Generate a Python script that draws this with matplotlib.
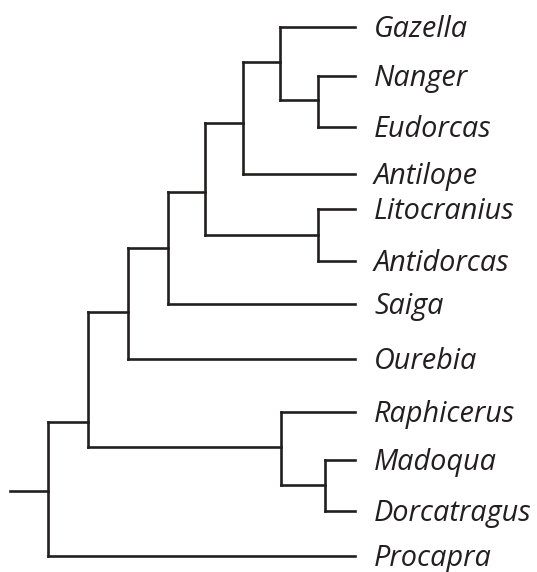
import matplotlib
matplotlib.use("Agg")
import matplotlib.pyplot as plt
from matplotlib import transforms

# Leaves (top to bottom) and their vertical positions
leaf_names = ["Gazella", "Nanger", "Eudorcas", "Antilope", "Litocranius", "Antidorcas",
              "Saiga", "Ourebia", "Raphicerus", "Madoqua", "Dorcatragus", "Procapra"]
leaf_y = [27, 76, 127, 174, 209, 261, 304, 359, 412, 460, 511, 556]
leaf_x = 355  # tip depth

# Internal nodes: name, depth, attach y, children
node_names = ["root", "F", "E", "D", "C", "B", "A", "NE", "LA", "R", "MD"]
node_depth = [48, 88, 128, 168, 205, 243, 280, 318, 318, 281, 325]
node_y = [491, 422, 312, 248, 192, 123, 62, 100, 235, 447, 485]
node_children = [["F", "Procapra"], ["E", "R"], ["D", "Ourebia"], ["C", "Saiga"],
                 ["B", "LA"], ["A", "Antilope"], ["Gazella", "NE"],
                 ["Nanger", "Eudorcas"], ["Litocranius", "Antidorcas"],
                 ["Raphicerus", "MD"], ["Madoqua", "Dorcatragus"]]
root_stub_x = 10

pos = {n: (leaf_x, y) for n, y in zip(leaf_names, leaf_y)}
for n, d, y in zip(node_names, node_depth, node_y):
    pos[n] = (d, y)

fig = plt.figure(figsize=(5.37, 5.72), dpi=100)
ax = fig.add_axes([0, 0, 1, 1])
ax.set_xlim(0, 537)
ax.set_ylim(572, 0)
ax.axis("off")

col = "#231f20"
lw = 1.9
kw = dict(color=col, lw=lw, solid_capstyle="projecting", solid_joinstyle="miter")

for n, ch in zip(node_names, node_children):
    x, _ = pos[n]
    ys = [pos[c][1] for c in ch]
    ax.plot([x, x], [min(ys), max(ys)], **kw)
    for c in ch:
        cx, cy = pos[c]
        ax.plot([x, cx], [cy, cy], **kw)

rx, ry = pos["root"]
ax.plot([root_stub_x, rx], [ry, ry], **kw)

# labels: baseline slightly below the branch tip (offset in points)
off = transforms.offset_copy(ax.transData, fig=fig, x=0, y=-7.5, units="points")
for n, y in zip(leaf_names, leaf_y):
    ax.text(374, y, n, ha="left", va="baseline", fontsize=20.8, style="italic",
            family="Open Sans", color=col, transform=off)

fig.savefig("out.png", dpi=100)
